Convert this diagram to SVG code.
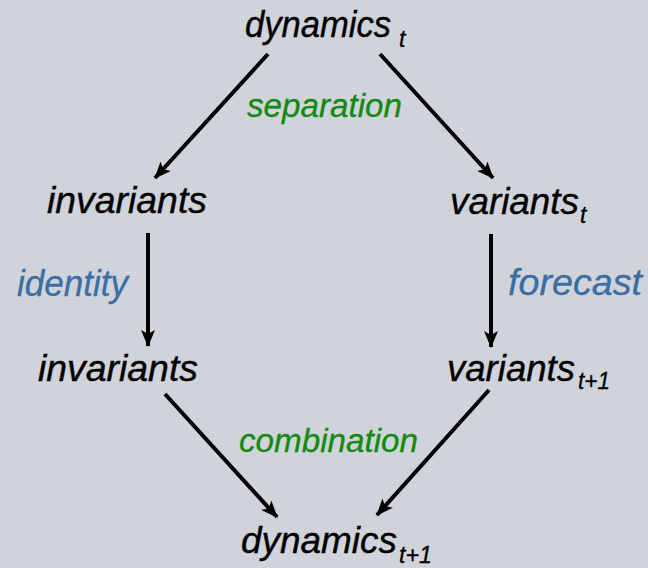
<svg xmlns="http://www.w3.org/2000/svg" width="648" height="568" viewBox="0 0 648 568">
<style>
text { font-family: "Liberation Sans", Arial, sans-serif; font-style: italic; }
.n { font-size: 37px; fill: #000; stroke: #000; stroke-width: 0.4; }
.s { font-size: 23px; stroke-width: 0.3; }
.g { font-size: 33px; fill: #118a11; stroke: #118a11; stroke-width: 0.3; }
.b { font-size: 36px; fill: #3a6ea5; stroke: #3a6ea5; stroke-width: 0.3; }
.c { stroke: #000; stroke-width: 4; fill: none; marker-end: url(#ah); }
</style>
<defs>
<marker id="ah" viewBox="0 0 17 14" refX="16" refY="7" markerWidth="17" markerHeight="14" markerUnits="userSpaceOnUse" orient="auto">
<path d="M0,0 L17,7 L0,14 L4,7 Z" fill="#000"/>
</marker>
</defs>
<rect width="648" height="568" fill="#d0d3da"/>
<g id="connectors">
<line class="c" x1="268" y1="54" x2="155" y2="178"/>
<line class="c" x1="380" y1="54" x2="493" y2="178"/>
<line class="c" x1="148" y1="233" x2="148" y2="346"/>
<line class="c" x1="491" y1="234" x2="491" y2="347"/>
<line class="c" x1="165" y1="394" x2="277" y2="517"/>
<line class="c" x1="489" y1="390" x2="377" y2="515"/>
</g>
<g id="dyn_t">
<text class="n" x="245" y="37"><tspan textLength="146" lengthAdjust="spacingAndGlyphs">dynamics</tspan><tspan class="s" x="399" y="47">t</tspan></text>
</g>
<g id="lbl_sep"><text class="g" x="247" y="117" textLength="155" lengthAdjust="spacingAndGlyphs">separation</text></g>
<g id="inv1"><text class="n" x="47" y="213" textLength="160" lengthAdjust="spacingAndGlyphs">invariants</text></g>
<g id="var_t">
<text class="n" x="450" y="214"><tspan textLength="129" lengthAdjust="spacingAndGlyphs">variants</tspan><tspan class="s" x="580" y="223">t</tspan></text>
</g>
<g id="lbl_id"><text class="b" x="17" y="296" textLength="111" lengthAdjust="spacingAndGlyphs">identity</text></g>
<g id="lbl_fc"><text class="b" x="508" y="295" textLength="134" lengthAdjust="spacingAndGlyphs">forecast</text></g>
<g id="inv2"><text class="n" x="38" y="381" textLength="160" lengthAdjust="spacingAndGlyphs">invariants</text></g>
<g id="var_t1">
<text class="n" x="447" y="381"><tspan textLength="128" lengthAdjust="spacingAndGlyphs">variants</tspan><tspan class="s" x="578" y="389" textLength="32" lengthAdjust="spacingAndGlyphs">t+1</tspan></text>
</g>
<g id="lbl_comb"><text class="g" x="239" y="452" textLength="179" lengthAdjust="spacingAndGlyphs">combination</text></g>
<g id="dyn_t1">
<text class="n" x="241" y="553"><tspan textLength="156" lengthAdjust="spacingAndGlyphs">dynamics</tspan><tspan class="s" x="399" y="563" textLength="33" lengthAdjust="spacingAndGlyphs">t+1</tspan></text>
</g>
</svg>
